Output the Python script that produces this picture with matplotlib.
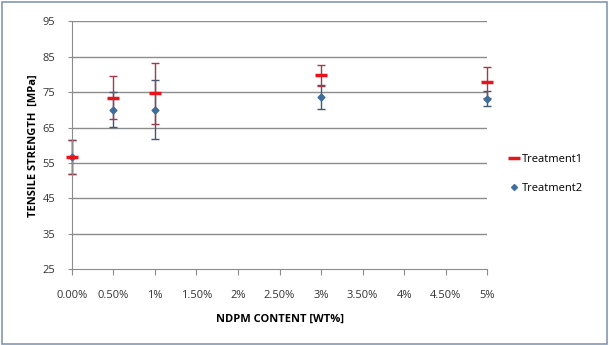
import numpy as np
import matplotlib.pyplot as plt
from matplotlib.lines import Line2D
from matplotlib.patches import Rectangle

content = [0.0, 0.5, 1.0, 3.0, 5.0]
treatment1 = [56.7, 73.4, 74.7, 79.8, 77.8]
treatment1_err = [4.7, 6.1, 8.6, 3.0, 4.4]
treatment2 = [56.7, 70.1, 70.1, 73.6, 73.2]
treatment2_err = [4.7, 4.9, 8.3, 3.3, 2.0]

x_ticks = [0, 0.5, 1, 1.5, 2, 2.5, 3, 3.5, 4, 4.5, 5]
x_tick_labels = ["0.00%", "0.50%", "1%", "1.50%", "2%", "2.50%", "3%", "3.50%", "4%", "4.50%", "5%"]
y_ticks = [25, 35, 45, 55, 65, 75, 85, 95]

red = "#e8141b"
blue = "#3e6e99"

plt.rcParams["font.family"] = ["Open Sans", "DejaVu Sans"]

fig = plt.figure(figsize=(6.09, 3.45), dpi=100)
ax = fig.add_axes([0.118, 0.22, 0.682, 0.718])

# chart border
fig.patches.append(Rectangle((0.003, 0.004), 0.994, 0.99, transform=fig.transFigure,
                             fill=False, edgecolor="#8497b0", linewidth=1.2))

for y in y_ticks[1:]:
    ax.axhline(y, color="#8c8c8c", linewidth=1.0, zorder=0)

# error bars first, then the markers on top
ax.errorbar(content, treatment2, yerr=treatment2_err, fmt="none", ecolor="#3d5a73",
            elinewidth=1.0, capsize=3, capthick=1.0, zorder=2, clip_on=False)
ax.errorbar(content, treatment1, yerr=treatment1_err, fmt="none", ecolor="#a33a4a",
            elinewidth=1.0, capsize=3, capthick=1.0, zorder=2, clip_on=False)
ax.plot(content, treatment2, linestyle="none", marker="D", color=blue,
        markersize=3.5, zorder=3, clip_on=False)
ax.plot(content, treatment1, linestyle="none", marker="_", color=red,
        markersize=8, markeredgewidth=2.5, zorder=4, clip_on=False)

ax.set_xlim(0, 5)
ax.set_ylim(25, 95)
ax.set_xticks(x_ticks)
ax.set_xticklabels(x_tick_labels)
ax.set_yticks(y_ticks)
ax.tick_params(axis="both", labelsize=8, color="#8c8c8c", width=0.8, labelcolor="#333333")
ax.tick_params(axis="x", length=4, pad=11)
ax.tick_params(axis="y", length=3, pad=9)

for side in ["top", "right"]:
    ax.spines[side].set_visible(False)
for side in ["left", "bottom"]:
    ax.spines[side].set_color("#8c8c8c")
    ax.spines[side].set_linewidth(0.8)

ax.set_xlabel("NDPM CONTENT [WT%]", fontsize=8, fontweight="bold", labelpad=9)
ax.set_ylabel("TENSILE STRENGTH  [MPa]", fontsize=8, fontweight="bold", labelpad=3)

handles = [
    Line2D([], [], linestyle="none", marker="_", color=red, markersize=8, markeredgewidth=2.5),
    Line2D([], [], linestyle="none", marker="D", color=blue, markersize=3),
]
ax.legend(handles, ["Treatment1", "Treatment2"], loc="center left", bbox_to_anchor=(1.03, 0.385),
          frameon=False, fontsize=8, handlelength=0.8, handletextpad=0.3, labelspacing=1.6)

fig.savefig("out.png", dpi=100)
